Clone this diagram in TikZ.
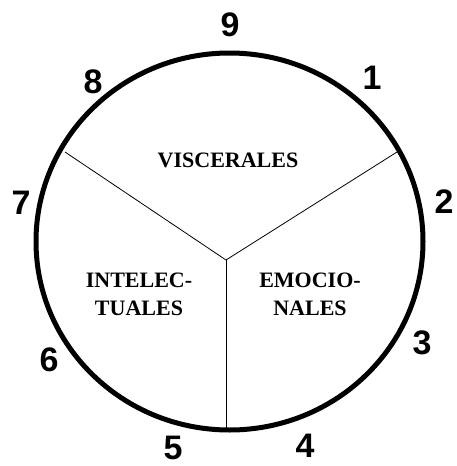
\documentclass[tikz,border=0pt]{standalone}
\usepackage{fontspec}
\setmainfont{Liberation Serif}
\newfontfamily\numfont{Liberation Sans}
\usepackage{tikz}
\usetikzlibrary{positioning}

\begin{document}
\begin{tikzpicture}[x=1pt, y=-1pt,
		num/.style={font=\numfont\bfseries\fontsize{34}{34}\selectfont, inner sep=0pt},
		zona/.style={font=\bfseries\fontsize{22}{28}\selectfont, align=center, inner sep=0pt},
		radio/.style={line width=0.8pt}]
	\useasboundingbox (0,0) rectangle (456,466);
	% Circulo
	\draw[line width=5pt] (229.5,241.5) ellipse [x radius=193.5, y radius=188.5];

	% Radios
	\coordinate (c) at (226,260);
	\coordinate (r1) at (65,152);
	\coordinate (r2) at (397,152);
	\coordinate (r3) at (226,430);
	\draw[radio] (c) -- (r1);
	\draw[radio] (c) -- (r2);
	\draw[radio] (c) -- (r3);

	% Centros
	\node[zona] (visc) at (228,160) {VISCERALES};
	\node[zona] (intel) at (139,294) {INTELEC-\\TUALES};
	\node[zona] (emoc) at (310,294) {EMOCIO-\\NALES};

	% Numeros
	\node[num] (n9) at (230,25) {9};
	\node[num] (n1) at (372,78) {1};
	\node[num] (n2) at (444,202) {2};
	\node[num] (n3) at (422,343) {3};
	\node[num] (n4) at (305,446) {4};
	\node[num] (n5) at (173,448) {5};
	\node[num] (n6) at (49,360) {6};
	\node[num] (n7) at (21,203) {7};
	\node[num] (n8) at (93,82) {8};
\end{tikzpicture}
\end{document}
